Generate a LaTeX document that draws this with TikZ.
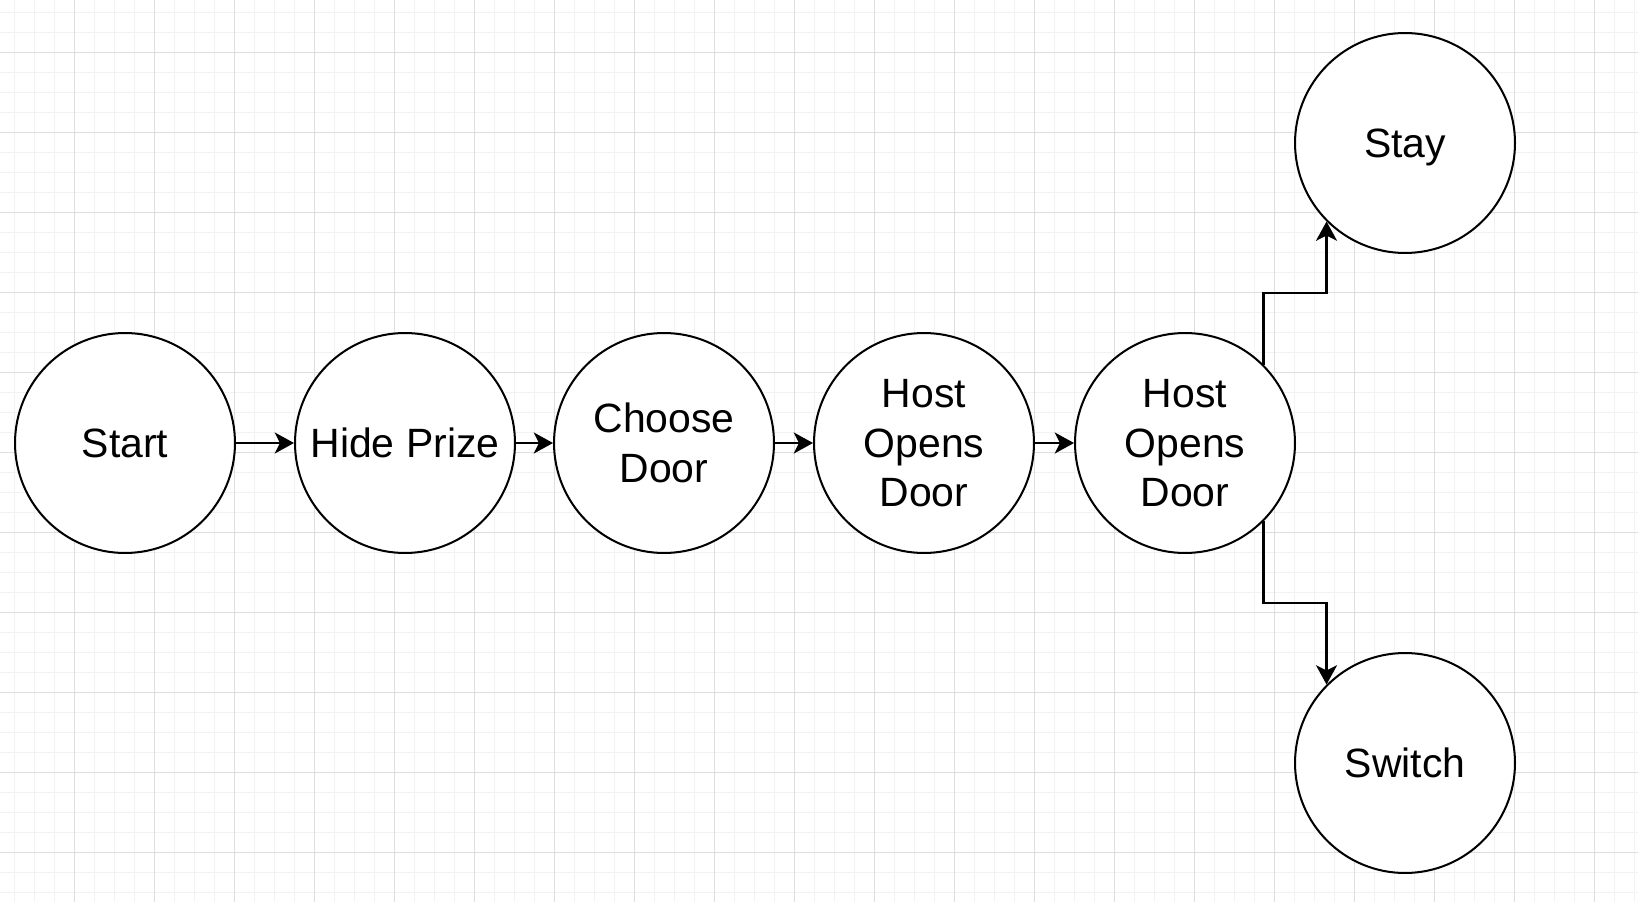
\documentclass[tikz,border=0pt]{standalone}
\usepackage{fontspec}
\setmainfont{Liberation Sans}
\usetikzlibrary{arrows.meta, calc}

\begin{document}
\begin{tikzpicture}[x=0.02cm, y=-0.02cm,
    state/.style={circle, draw=black, line width=1.15pt, fill=white, inner sep=0pt,
        minimum size=4.4cm, align=center, text depth=0pt, font=\fontsize{23.3}{28.4}\selectfont},
    flow/.style={line width=1.25pt, -{Stealth[length=11pt, width=12pt, inset=3pt]}}]
    \useasboundingbox (0, 0) rectangle (1638, 902);
    \fill[white] (0, 0) rectangle (1638, 902);
    % background grid
    \foreach \gx in {14, 34, ..., 1634} \draw[line width=0.55pt, color=black!5] (\gx, 0) -- (\gx, 902);
    \foreach \gy in {12, 32, ..., 892} \draw[line width=0.55pt, color=black!5] (0, \gy) -- (1638, \gy);
    \foreach \gx in {74, 154, ..., 1634} \draw[line width=0.55pt, color=black!13] (\gx, 0) -- (\gx, 902);
    \foreach \gy in {52, 132, ..., 892} \draw[line width=0.55pt, color=black!13] (0, \gy) -- (1638, \gy);
    % states
    \node[state] (start) at (125, 443) {Start};
    \node[state] (hide) at (405, 443) {Hide Prize};
    \node[state] (choose) at (664, 443) {Choose\\Door};
    \node[state] (hostA) at (924, 443) {Host\\Opens\\Door};
    \node[state] (hostB) at (1185, 443) {Host\\Opens\\Door};
    \node[state] (stay) at (1405, 143) {Stay};
    \node[state] (switch) at (1405, 763) {Switch};
    % arrows
    \draw[flow] (start) -- (hide);
    \draw[flow] (hide) -- (choose);
    \draw[flow] (choose) -- (hostA);
    \draw[flow] (hostA) -- (hostB);
    \draw[flow] (hostB.45) |- ($(hostB.45)!0.5!(stay.225)$) -| (stay.225);
    \draw[flow] (hostB.-45) |- ($(hostB.-45)!0.5!(switch.135)$) -| (switch.135);
\end{tikzpicture}
\end{document}
